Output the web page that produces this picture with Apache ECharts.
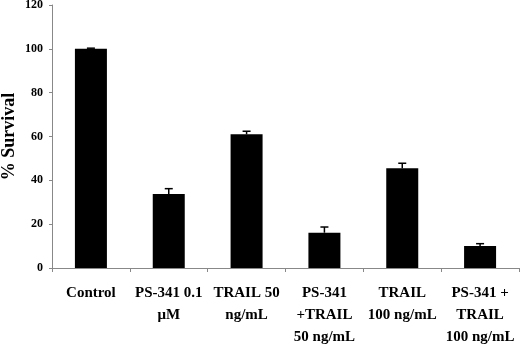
<!DOCTYPE html>
<html>
<head>
<meta charset="utf-8">
<script src="https://cdn.jsdelivr.net/npm/echarts@6/dist/echarts.min.js"></script>
<style>
  html, body { margin: 0; padding: 0; background: #fff; }
  #chart { width: 520px; height: 344px; }
</style>
</head>
<body>
<div id="chart"></div>
<script>
// 分组名称
var categories = ['Control', 'PS-341 0.1\nμM', 'TRAIL 50\nng/mL', 'PS-341\n+TRAIL\n50 ng/mL', 'TRAIL\n100 ng/mL', 'PS-341 +\nTRAIL\n100 ng/mL'];
// 存活率均值
var survival = [100, 33.8, 61.0, 16.1, 45.5, 10.0];
// 误差上限
var errUpper = [100.3, 36.2, 62.4, 18.7, 47.8, 11.1];
var yTicks = [0, 20, 40, 60, 80, 100, 120];

var chart = echarts.init(document.getElementById('chart'));
var serif = '"Liberation Serif", "DejaVu Serif", serif';

var errData = survival.map(function (v, i) { return [i, v, errUpper[i]]; });

var option = {
    animation: false,
    backgroundColor: '#fff',
    grid: { left: 52, right: 1, top: 5, bottom: 76, containLabel: false, outerBoundsMode: 'none' },
    xAxis: {
        type: 'category',
        data: categories,
        axisLine: { lineStyle: { color: '#888', width: 1 } },
        axisTick: { show: true, alignWithLabel: false, length: 4, lineStyle: { color: '#888' } },
        axisLabel: {
            interval: 0,
            margin: 14,
            color: '#000',
            fontFamily: serif,
            fontWeight: 'bold',
            fontSize: 15,
            lineHeight: 22,
            align: 'center'
        }
    },
    yAxis: {
        type: 'value',
        min: yTicks[0],
        max: yTicks[yTicks.length - 1],
        interval: 20,
        name: '% Survival',
        nameLocation: 'middle',
        nameGap: 34,
        nameMoveOverlap: false,
        nameTextStyle: { color: '#000', fontFamily: serif, fontWeight: 'bold', fontSize: 18 },
        axisLine: { show: true, lineStyle: { color: '#888' } },
        axisTick: { show: true, length: 3, lineStyle: { color: '#888' } },
        splitLine: { show: false },
        axisLabel: { color: '#000', fontFamily: serif, fontWeight: 'bold', fontSize: 12, margin: 9 }
    },
    series: [{
        type: 'bar',
        data: survival,
        barWidth: 32,
        itemStyle: { color: '#000' }
    }, {
        type: 'custom',
        data: errData,
        z: 5,
        renderItem: function (params, api) {
            var x = api.value(0);
            var lo = api.coord([x, api.value(1)]);
            var hi = api.coord([x, api.value(2)]);
            var half = 4;
            return {
                type: 'group',
                children: [{
                    type: 'line',
                    shape: { x1: lo[0], y1: lo[1], x2: hi[0], y2: hi[1] },
                    style: { stroke: '#000', lineWidth: 1.5 }
                }, {
                    type: 'line',
                    shape: { x1: hi[0] - half, y1: hi[1], x2: hi[0] + half, y2: hi[1] },
                    style: { stroke: '#000', lineWidth: 1.5 }
                }]
            };
        }
    }]
};
chart.setOption(option);
</script>
</body>
</html>
